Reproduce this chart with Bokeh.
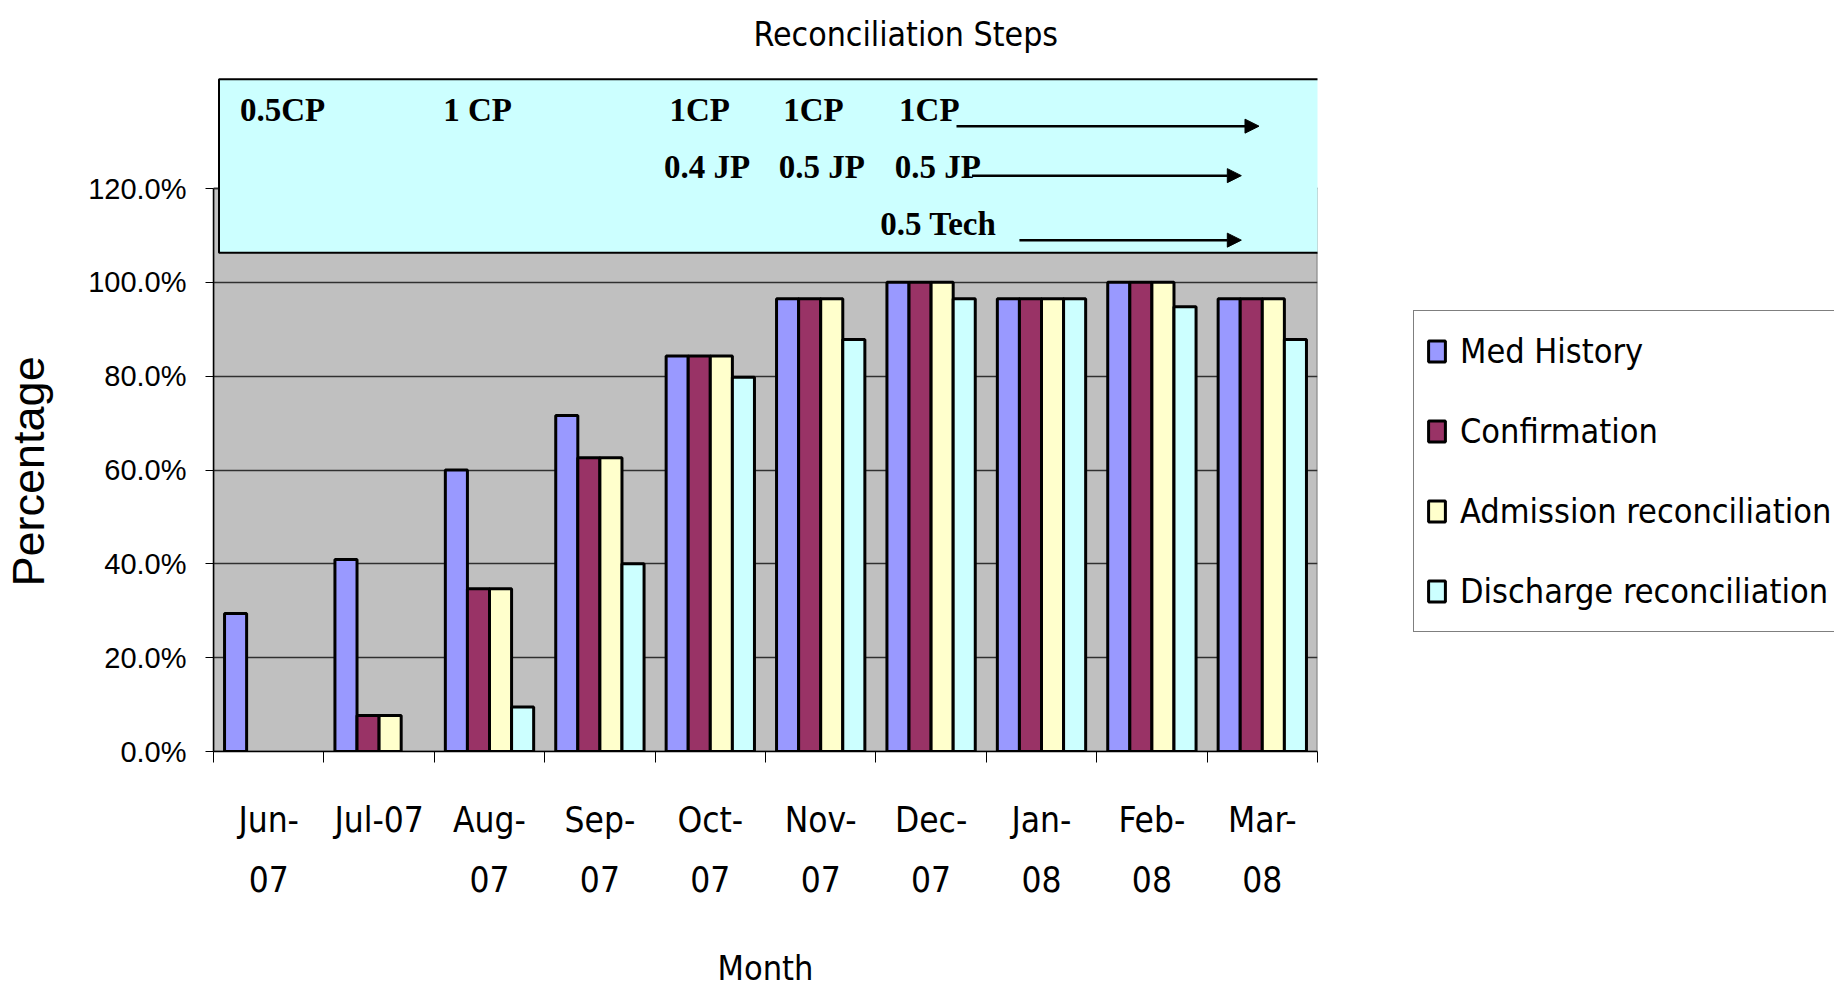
from bokeh.plotting import figure
from bokeh.models import (ColumnDataSource, Range1d, FixedTicker, NumeralTickFormatter,
                          Legend, LegendItem, Title, Arrow, NormalHead, BoxAnnotation)
from bokeh.core.properties import value
from bokeh.embed import file_html
from bokeh.resources import INLINE
from bokeh.transform import dodge

nan = float("nan")

# ---------------- data ----------------
months = ["Jun-07", "Jul-07", "Aug-07", "Sep-07", "Oct-07",
          "Nov-07", "Dec-07", "Jan-08", "Feb-08", "Mar-08"]
tick_labels = ["Jun-\n07", "Jul-07", "Aug-\n07", "Sep-\n07", "Oct-\n07",
               "Nov-\n07", "Dec-\n07", "Jan-\n08", "Feb-\n08", "Mar-\n08"]
med_history = [0.294, 0.409, 0.600, 0.716, 0.843, 0.965, 1.000, 0.965, 1.000, 0.965]
confirmation = [nan, 0.077, 0.347, 0.626, 0.843, 0.965, 1.000, 0.965, 1.000, 0.965]
admission_rec = [nan, 0.077, 0.347, 0.626, 0.843, 0.965, 1.000, 0.965, 1.000, 0.965]
discharge_rec = [nan, nan, 0.095, 0.400, 0.798, 0.878, 0.965, 0.965, 0.948, 0.878]
series_names = ["Med History", "Confirmation", "Admission reconciliation",
                "Discharge reconciliation"]
series_colors = ["#9999FF", "#993366", "#FFFFCC", "#CCFFFF"]
y_ticks = [0.0, 0.2, 0.4, 0.6, 0.8, 1.0, 1.2]

staff_labels = ["0.5CP", "1 CP", "1CP", "1CP", "1CP",
                "0.4 JP", "0.5 JP", "0.5 JP", "0.5 Tech"]

# ---------------- layout constants ----------------
staff_x = [0.24, 2.08, 4.13, 5.16, 6.21, 4.08, 5.12, 6.17, 6.04]
staff_y = [1.367, 1.367, 1.367, 1.367, 1.367, 1.245, 1.245, 1.245, 1.124]
arrows = [(6.73, 9.47, 1.333), (6.87, 9.31, 1.2275), (7.30, 9.31, 1.090)]

NARROW = "DejaVu Sans Condensed"
SANS = "Liberation Sans"

n = len(months)
centers = [i + 0.5 for i in range(n)]
bounds = [float(i) for i in range(n + 1)]

src = ColumnDataSource(dict(x=centers, s0=med_history, s1=confirmation,
                            s2=admission_rec, s3=discharge_rec))

p = figure(frame_width=1104, frame_height=684,
           x_range=Range1d(0, n), y_range=Range1d(0, 1.458),
           output_backend="svg", toolbar_location=None,
           min_border_left=212, min_border_right=514,
           min_border_top=65, min_border_bottom=235,
           background_fill_color="white", border_fill_color="white",
           outline_line_color=None)

# gray plot area
p.quad(left=[0], right=[n], bottom=[0], top=[1.2], fill_color="#C0C0C0",
       line_color="#808080", line_width=2, level="image")

# bars
renderers = []
offsets = [-0.3, -0.1, 0.1, 0.3]
for k in range(4):
    r = p.vbar(x=dodge("x", offsets[k], range=p.x_range), top="s%d" % k, width=0.2,
               source=src, fill_color=series_colors[k], line_color="black",
               line_width=3)
    renderers.append(r)

# grid
p.xgrid.visible = False
p.ygrid.ticker = FixedTicker(ticks=y_ticks)
p.ygrid.grid_line_color = "#303030"
p.ygrid.grid_line_width = 1.5

# y axis
ya = p.yaxis[0]
ya.ticker = FixedTicker(ticks=y_ticks)
ya.formatter = NumeralTickFormatter(format="0.0%")
ya.bounds = (0, 1.2)
ya.axis_line_color = "black"
ya.axis_line_width = 1.5
ya.major_tick_out = 8
ya.major_tick_in = 0
ya.major_tick_line_color = "black"
ya.minor_tick_line_color = None
ya.major_label_standoff = 19
ya.major_label_text_font = SANS
ya.major_label_text_font_size = "29px"
ya.major_label_text_color = "black"
# blank axis label used only as a spacer between tick labels and the title
ya.axis_label = " "
ya.axis_label_text_font_size = "2px"
ya.axis_label_standoff = 26

# y axis title, centred on the 0-120% span
p.add_layout(Title(text="Percentage", align="left", offset=165,
                   text_font=SANS, text_font_size="45px", text_font_style="normal",
                   text_color="black", standoff=0), "left")

# x axis
xa = p.xaxis[0]
xa.ticker = FixedTicker(ticks=centers, minor_ticks=bounds)
xa.major_label_overrides = {c: t for c, t in zip(centers, tick_labels)}
xa.bounds = (0, n)
xa.axis_line_color = "black"
xa.axis_line_width = 1.5
xa.major_tick_out = 0
xa.major_tick_in = 0
xa.minor_tick_out = 11
xa.minor_tick_in = 0
xa.minor_tick_line_color = "black"
xa.major_label_standoff = 37
xa.major_label_text_font = NARROW
xa.major_label_text_font_size = "35px"
xa.major_label_text_line_height = 1.5
xa.major_label_text_color = "black"
xa.axis_label = "Month"
xa.axis_label_text_font = NARROW
xa.axis_label_text_font_size = "34px"
xa.axis_label_text_font_style = "normal"
xa.axis_label_text_color = "black"
xa.axis_label_standoff = 45

# title
p.title = Title(text="Reconciliation Steps", align="left", offset=540,
                vertical_align="middle",
                text_font=NARROW, text_font_size="33.6px", text_font_style="normal",
                text_color="black", standoff=26)

# staffing box
p.add_layout(BoxAnnotation(left=0.05, right=10.05, bottom=1.063, top=1.433,
                           fill_color="#CCFFFF", fill_alpha=1.0,
                           line_color="black", line_width=2, line_alpha=1.0))
tsrc = ColumnDataSource(dict(x=staff_x, y=staff_y, t=staff_labels))
p.text(x="x", y="y", text="t", source=tsrc, text_font=value("Liberation Serif"),
       text_font_style="bold", text_font_size="33px", text_baseline="middle",
       text_align="left", text_color="black", level="overlay")
for x0, x1, yy in arrows:
    p.add_layout(Arrow(end=NormalHead(size=14, fill_color="black", line_color="black"),
                       x_start=x0, y_start=yy, x_end=x1, y_end=yy,
                       line_color="black", line_width=2.5))

# legend (right side panel)
legend = Legend(items=[LegendItem(label=series_names[k], renderers=[renderers[k]])
                       for k in range(4)],
                location=(96, 119), orientation="vertical",
                border_line_color="black", border_line_width=1.5,
                background_fill_color="white", background_fill_alpha=1.0,
                padding=12, spacing=24, margin=0,
                glyph_width=21, glyph_height=26, label_height=56,
                label_standoff=13,
                label_text_font=NARROW, label_text_font_size="34px",
                label_text_color="black")
p.add_layout(legend, "right")

open("out.html", "w").write(file_html(p, INLINE))
